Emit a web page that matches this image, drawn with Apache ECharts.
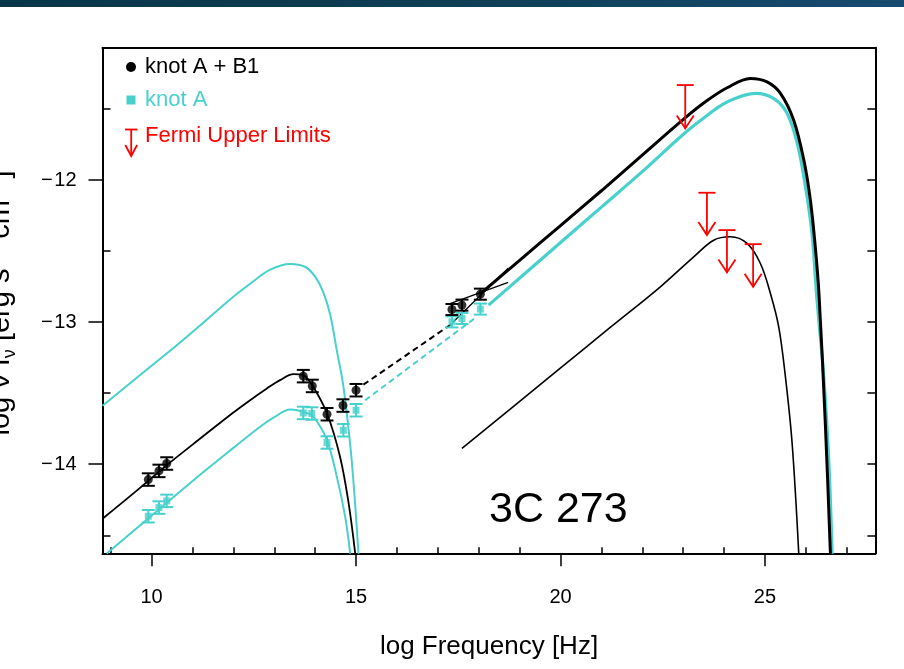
<!DOCTYPE html>
<html><head><meta charset="utf-8">
<script src="https://cdn.jsdelivr.net/npm/echarts@6/dist/echarts.min.js"></script>
<style>html,body{margin:0;padding:0;background:#fff}#c{width:904px;height:669px}</style>
</head><body><div id="c"></div>
<script>
const FONT = '"Liberation Sans", Arial, Helvetica, sans-serif';
const CYAN = '#48D1CC';

// axis ticks
const xTicksMajor = [10, 15, 20, 25];
const xTicksMinor = [9, 11, 12, 13, 14, 16, 17, 18, 19, 21, 22, 23, 24, 26, 27];
const yTicksMajor = [-14, -13, -12];
const yTicksMinor = [-14.5, -13.5, -12.5, -11.5];
const yTicksRight = [-14.5, -14, -13.5, -13, -12.5, -12, -11.5];

// knot A + B1 data points
const knotAB1_x = [9.92, 10.18, 10.37, 13.71, 13.93, 14.29, 14.68, 15.00, 17.345, 17.59, 18.04];
const knotAB1_y = [-14.108, -14.047, -13.995, -13.380, -13.449, -13.648, -13.587, -13.479, -12.911, -12.880, -12.803];
const knotAB1_err = [0.044, 0.044, 0.044, 0.044, 0.044, 0.044, 0.044, 0.044, 0.039, 0.039, 0.039];

// knot A data points
const knotA_x = [9.92, 10.18, 10.37, 13.71, 13.92, 14.29, 14.69, 15.00, 17.345, 17.59, 18.04];
const knotA_y = [-14.366, -14.305, -14.258, -13.639, -13.643, -13.847, -13.761, -13.620, -12.998, -12.974, -12.908];
const knotA_err = [0.044, 0.044, 0.044, 0.044, 0.044, 0.044, 0.044, 0.044, 0.039, 0.039, 0.039];

// Fermi upper limits: x, cap value, arrow tip value
const ul_x = [23.05, 23.58, 24.07, 24.71];
const ul_cap = [-11.331, -12.089, -12.352, -12.451];
const ul_tip = [-11.636, -12.387, -12.650, -12.751];

// model curves
const synHigh_x = [8.80, 9.60, 10.46, 11.20, 11.92, 12.41, 12.90, 13.39, 13.75, 14.00, 14.20, 14.37, 14.53, 14.69, 14.87, 14.97, 15.06];
const synHigh_y = [-13.588, -13.400, -13.200, -13.020, -12.840, -12.730, -12.630, -12.590, -12.610, -12.680, -12.790, -12.950, -13.200, -13.450, -13.900, -14.250, -14.630];
const synAB1_x = [8.80, 9.60, 10.37, 11.19, 12.00, 12.41, 12.82, 13.14, 13.47, 13.71, 13.93, 14.29, 14.61, 14.82, 14.98];
const synAB1_y = [-14.384, -14.195, -14.007, -13.819, -13.636, -13.549, -13.467, -13.408, -13.366, -13.373, -13.444, -13.643, -13.949, -14.277, -14.629];
const synA_x = [8.904, 9.963, 11.187, 12.001, 12.654, 13.021, 13.388, 13.714, 13.959, 14.287, 14.531, 14.735, 14.857];
const synA_y = [-14.629, -14.371, -14.074, -13.885, -13.736, -13.665, -13.615, -13.632, -13.667, -13.831, -14.089, -14.371, -14.629];
const icAB1_x = [18.04, 19.00, 20.00, 21.00, 21.95, 23.054, 23.585, 24.074, 24.644, 25.05, 25.378, 25.70, 25.95, 26.11, 26.23, 26.32, 26.479, 26.60];
const icAB1_y = [-12.800, -12.565, -12.320, -12.075, -11.836, -11.560, -11.440, -11.350, -11.284, -11.308, -11.389, -11.577, -11.859, -12.141, -12.470, -12.800, -13.737, -14.630];
const icA_x = [18.24, 19.20, 20.10, 21.00, 21.95, 23.054, 23.585, 24.074, 24.77, 25.21, 25.54, 25.79, 25.99, 26.15, 26.26, 26.437, 26.559, 26.643];
const icA_y = [-12.880, -12.640, -12.415, -12.190, -11.953, -11.665, -11.545, -11.450, -11.390, -11.425, -11.530, -11.742, -12.047, -12.375, -12.800, -13.385, -13.972, -14.630];
const icLow_x = [17.590, 18.80, 19.995, 21.20, 22.442, 23.257, 23.746, 24.154, 24.563, 24.888, 25.133, 25.336, 25.500, 25.664, 25.826];
const icLow_y = [-13.889, -13.605, -13.324, -13.041, -12.751, -12.540, -12.423, -12.399, -12.446, -12.587, -12.798, -13.033, -13.385, -13.854, -14.629];
const dashAB1_x = [15.18, 17.30];
const dashAB1_y = [-13.44, -13.02];
const dashA_x = [15.22, 17.96];
const dashA_y = [-13.55, -12.96];
const bow1_x = [17.30, 18.72];
const bow1_y = [-12.87, -12.72];
const bow2_x = [17.30, 18.72];
const bow2_y = [-13.02, -12.62];

const pairs = (xs, ys) => xs.map((x, i) => [x, ys[i]]);

function errRender(color) {
  return function (params, api) {
    const x = api.value(0), y = api.value(1), e = api.value(2);
    const t = api.coord([x, y + e]), b = api.coord([x, y - e]);
    const hw = 6.5, st = { stroke: color, lineWidth: 2 };
    return { type: 'group', children: [
      { type: 'line', shape: { x1: t[0], y1: t[1], x2: b[0], y2: b[1] }, style: st },
      { type: 'line', shape: { x1: t[0] - hw, y1: t[1], x2: t[0] + hw, y2: t[1] }, style: st },
      { type: 'line', shape: { x1: b[0] - hw, y1: b[1], x2: b[0] + hw, y2: b[1] }, style: st }
    ]};
  };
}
function ulRender(params, api) {
  const x = api.value(0), yc = api.value(1), yt = api.value(2);
  const c = api.coord([x, yc]), t = api.coord([x, yt]);
  const st = { stroke: '#ff0000', lineWidth: 1.8, fill: null };
  return { type: 'group', children: [
    { type: 'line', shape: { x1: c[0] - 8.5, y1: c[1], x2: c[0] + 8.5, y2: c[1] }, style: st },
    { type: 'line', shape: { x1: c[0], y1: c[1], x2: t[0], y2: t[1] }, style: st },
    { type: 'polyline', shape: { points: [[t[0] - 8.5, t[1] - 13], [t[0], t[1]], [t[0] + 8.5, t[1] - 13]] }, style: st }
  ]};
}

function curve(xs, ys, color, width, dashed, smooth) {
  return {
    type: 'line', xAxisIndex: 0, yAxisIndex: 0, data: pairs(xs, ys),
    showSymbol: false, smooth: smooth === undefined ? 0.35 : smooth, clip: true, silent: true,
    lineStyle: { color: color, width: width, type: dashed ? [6, 4] : 'solid' }, z: 2
  };
}

const G = { left: 102.5, top: 47.7, width: 772.9, height: 505.6 };
const XMIN = 8.8, XMAX = 27.7, YMIN = -14.627, YMAX = -11.068;
const minus = v => String(v).replace('-', '\u2212\u200a');

const option = {
  animation: false,
  backgroundColor: '#ffffff',
  textStyle: { fontFamily: FONT },
  grid: [Object.assign({}, G), Object.assign({}, G), Object.assign({}, G)],
  xAxis: [
    { gridIndex: 0, type: 'value', min: XMIN, max: XMAX, position: 'bottom',
      axisLine: { show: true, lineStyle: { color: '#000', width: 2 } },
      axisTick: { show: true, inside: false, length: 13, customValues: xTicksMajor, lineStyle: { color: '#000', width: 1.5 } },
      axisLabel: { show: true, customValues: xTicksMajor, margin: 34, fontSize: 20, color: '#000', fontFamily: FONT },
      splitLine: { show: false } },
    { gridIndex: 1, type: 'value', min: XMIN, max: XMAX, position: 'bottom',
      axisLine: { show: false },
      axisTick: { show: true, inside: true, length: 6, customValues: xTicksMinor, lineStyle: { color: '#000', width: 1.5 } },
      axisLabel: { show: false }, splitLine: { show: false } },
    { gridIndex: 2, type: 'value', min: XMIN, max: XMAX, position: 'top',
      axisLine: { show: true, lineStyle: { color: '#000', width: 2 } },
      axisTick: { show: false }, axisLabel: { show: false }, splitLine: { show: false } }
  ],
  yAxis: [
    { gridIndex: 0, type: 'value', min: YMIN, max: YMAX, position: 'left',
      axisLine: { show: true, lineStyle: { color: '#000', width: 2 } },
      axisTick: { show: true, inside: false, length: 14, customValues: yTicksMajor, lineStyle: { color: '#000', width: 1.5 } },
      axisLabel: { show: true, customValues: yTicksMajor, margin: 26, fontSize: 20, color: '#000', fontFamily: FONT, formatter: minus },
      splitLine: { show: false } },
    { gridIndex: 1, type: 'value', min: YMIN, max: YMAX, position: 'left',
      axisLine: { show: false },
      axisTick: { show: true, inside: true, length: 8, customValues: yTicksMinor, lineStyle: { color: '#000', width: 1.5 } },
      axisLabel: { show: false }, splitLine: { show: false } },
    { gridIndex: 2, type: 'value', min: YMIN, max: YMAX, position: 'right',
      axisLine: { show: true, lineStyle: { color: '#000', width: 2 } },
      axisTick: { show: true, inside: true, length: 8, customValues: yTicksRight, lineStyle: { color: '#000', width: 1.5 } },
      axisLabel: { show: false }, splitLine: { show: false } }
  ],
  series: [
    curve(synHigh_x, synHigh_y, CYAN, 2),
    curve(synA_x, synA_y, CYAN, 2),
    curve(synAB1_x, synAB1_y, '#000', 1.8),
    curve(icLow_x, icLow_y, '#000', 1.6),
    curve(icA_x, icA_y, CYAN, 3.2),
    curve(icAB1_x, icAB1_y, '#000', 3),
    curve(dashA_x, dashA_y, CYAN, 2, true, false),
    curve(dashAB1_x, dashAB1_y, '#000', 2, true, false),
    curve(bow1_x, bow1_y, '#000', 1.3, false, false),
    curve(bow2_x, bow2_y, '#000', 1.3, false, false),
    { type: 'custom', xAxisIndex: 0, yAxisIndex: 0, renderItem: errRender(CYAN), silent: true, z: 4,
      data: knotA_x.map((x, i) => [x, knotA_y[i], knotA_err[i]]) },
    { type: 'scatter', xAxisIndex: 0, yAxisIndex: 0, symbol: 'rect', symbolSize: 7, silent: true, z: 5,
      itemStyle: { color: CYAN }, data: pairs(knotA_x, knotA_y) },
    { type: 'custom', xAxisIndex: 0, yAxisIndex: 0, renderItem: errRender('#000'), silent: true, z: 4,
      data: knotAB1_x.map((x, i) => [x, knotAB1_y[i], knotAB1_err[i]]) },
    { type: 'scatter', xAxisIndex: 0, yAxisIndex: 0, symbol: 'circle', symbolSize: 9, silent: true, z: 5,
      itemStyle: { color: '#000' }, data: pairs(knotAB1_x, knotAB1_y) },
    { type: 'custom', xAxisIndex: 0, yAxisIndex: 0, renderItem: ulRender, silent: true, z: 6,
      data: ul_x.map((x, i) => [x, ul_cap[i], ul_tip[i]]) }
  ],
  graphic: [
    { type: 'rect', left: 0, top: 0, shape: { width: 904, height: 7 }, silent: true,
      style: { fill: new echarts.graphic.LinearGradient(0, 0, 1, 0, [
        { offset: 0, color: '#093549' }, { offset: 0.5, color: '#0f3f55' }, { offset: 1, color: '#164a70' }]) } },
    // legend
    { type: 'circle', shape: { cx: 131, cy: 67, r: 5 }, style: { fill: '#000' }, silent: true },
    { type: 'text', x: 145, y: 67, silent: true, style: { text: 'knot A + B1', fill: '#000', font: '22px ' + FONT, verticalAlign: 'middle' } },
    { type: 'rect', shape: { x: 126.5, y: 95.5, width: 9, height: 9 }, style: { fill: CYAN }, silent: true },
    { type: 'text', x: 145, y: 100, silent: true, style: { text: 'knot A', fill: CYAN, font: '22px ' + FONT, verticalAlign: 'middle' } },
    { type: 'line', shape: { x1: 125, y1: 129.5, x2: 137.5, y2: 129.5 }, style: { stroke: '#ff0000', lineWidth: 1.8 }, silent: true },
    { type: 'line', shape: { x1: 131.2, y1: 129.5, x2: 131.2, y2: 156 }, style: { stroke: '#ff0000', lineWidth: 1.8 }, silent: true },
    { type: 'polyline', shape: { points: [[125.3, 145], [131.2, 156], [137.1, 145]] }, style: { stroke: '#ff0000', lineWidth: 1.8, fill: null }, silent: true },
    { type: 'text', x: 145, y: 135.5, silent: true, style: { text: 'Fermi Upper Limits', fill: '#ff0000', font: '22px ' + FONT, verticalAlign: 'middle' } },
    // source label
    { type: 'text', x: 489, y: 510, silent: true, style: { text: '3C 273', fill: '#000', font: '43px ' + FONT, verticalAlign: 'middle' } },
    // axis titles
    { type: 'text', x: 489, y: 647, silent: true, style: { text: 'log Frequency [Hz]', fill: '#000', font: '26px ' + FONT, align: 'center', verticalAlign: 'middle' } },
    { type: 'text', x: 1, y: 303, rotation: Math.PI / 2, silent: true,
      style: { text: '{n|log \u03bd I}{sb|\u03bd}{n| [erg s}{sp|\u22121}{n| cm}{sp|\u22122}{n|]}',
        align: 'center', verticalAlign: 'middle', fill: '#000',
        rich: {
          n: { fontSize: 29, fontFamily: FONT, lineHeight: 36, fill: '#000' },
          sb: { fontSize: 18, fontFamily: FONT, lineHeight: 36, verticalAlign: 'bottom', fill: '#000' },
          sp: { fontSize: 19, fontFamily: FONT, lineHeight: 36, verticalAlign: 'top', fill: '#000' }
        } } }
  ]
};
const chart = echarts.init(document.getElementById('c'), null, { renderer: 'canvas' });
chart.setOption(option);
</script></body></html>
